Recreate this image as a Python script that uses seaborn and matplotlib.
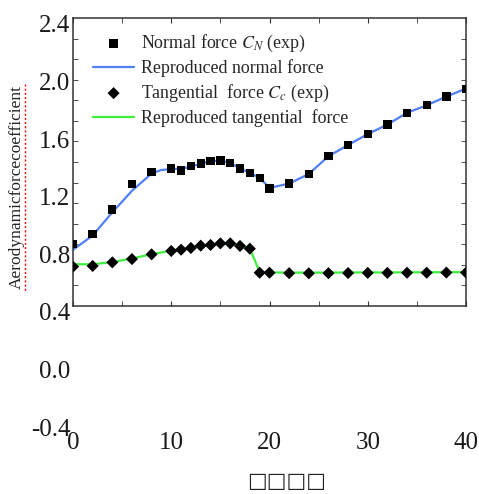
import numpy as np
import pandas as pd
import matplotlib
matplotlib.use("Agg")
import matplotlib.pyplot as plt
import matplotlib.transforms as mtransforms
from matplotlib.lines import Line2D
import seaborn as sns

# ---- data ----
x_exp = [0, 2, 4, 6, 8, 10, 11, 12, 13, 14, 15, 16, 17, 18, 19, 20,
         22, 24, 26, 28, 30, 32, 34, 36, 38, 40]
cn_exp = [0.83, 0.90, 1.07, 1.245, 1.33, 1.356, 1.34, 1.37, 1.39, 1.405,
          1.41, 1.395, 1.355, 1.325, 1.29, 1.215, 1.25, 1.317, 1.44, 1.518,
          1.594, 1.66, 1.742, 1.794, 1.854, 1.905]
cc_exp = [0.673, 0.678, 0.703, 0.726, 0.759, 0.782, 0.791, 0.803, 0.819,
          0.824, 0.835, 0.835, 0.817, 0.798, 0.631, 0.631, 0.628, 0.627,
          0.628, 0.629, 0.630, 0.630, 0.631, 0.631, 0.632, 0.632]

x_fit = [0, 2, 4, 6, 8, 9, 10, 11, 12, 13, 14, 15, 16, 17, 18, 19, 20,
         22, 24, 26, 28, 30, 32, 34, 36, 38, 40]
cn_fit = [0.79, 0.89, 1.05, 1.20, 1.32, 1.345, 1.35, 1.355, 1.365, 1.39,
          1.405, 1.41, 1.395, 1.355, 1.325, 1.29, 1.22, 1.25, 1.317, 1.44,
          1.518, 1.594, 1.66, 1.742, 1.794, 1.854, 1.91]
cc_fit = [0.69, 0.69, 0.705, 0.73, 0.76, 0.772, 0.785, 0.795, 0.805, 0.818,
          0.825, 0.83, 0.83, 0.82, 0.80, 0.635, 0.633, 0.632, 0.632, 0.632,
          0.633, 0.633, 0.633, 0.634, 0.634, 0.635, 0.635]

y_ticklabels = [-0.4, 0.0, 0.4, 0.8, 1.2, 1.6, 2.0, 2.4]
x_ticklabels = [0, 10, 20, 30, 40]

labels = ["Normal force $C_{N}$ (exp)", "Reproduced normal force",
          "Tangential  force $C_{c}$ (exp)", "Reproduced tangential  force"]

# ---- style ----
sns.set_style("ticks")
plt.rcParams["font.family"] = ["Liberation Serif", "DejaVu Sans"]
plt.rcParams["mathtext.fontset"] = "stix"

W, H = 479, 494
fig = plt.figure(figsize=(W / 100, H / 100), dpi=100)
ax = fig.add_axes([73 / W, 1 - 421.2 / H, 393 / W, 403.2 / H])

blue = "#4f7ff2"
green = "#3bef3b"

sns.scatterplot(x=x_exp, y=cn_exp, ax=ax, marker="s", s=36, color="black",
                edgecolor="none", label=labels[0], zorder=3)
sns.lineplot(x=x_fit, y=cn_fit, ax=ax, color=blue, lw=1.6, sort=False,
             estimator=None, label=labels[1], zorder=2)
sns.scatterplot(x=x_exp, y=cc_exp, ax=ax, marker="D", s=38, color="black",
                edgecolor="none", label=labels[2], zorder=3)
sns.lineplot(x=x_fit, y=cc_fit, ax=ax, color=green, lw=1.6, sort=False,
             estimator=None, label=labels[3], zorder=2)

ax.set_xlim(0, 40)
ax.set_ylim(-0.4, 2.4)

# spines: frame only spans 0.4 .. 2.4
for s in ["left", "right"]:
    ax.spines[s].set_bounds(0.4, 2.4)
ax.spines["bottom"].set_position(("data", 0.4))
for s in ax.spines.values():
    s.set_color("#333333")
    s.set_linewidth(1.1)
    s.set_visible(True)

# y ticks
ax.set_yticks(y_ticklabels)
ax.set_yticklabels([f"{v:.1f}" for v in y_ticklabels])
ax.set_yticks(np.linspace(0.4, 2.4, 15), minor=True)
ax.tick_params(axis="y", which="major", length=0, pad=2, labelsize=18,
               labelcolor="#1a1a1a")
ax.tick_params(axis="y", which="minor", direction="in", length=3.5,
               left=True, right=True, color="#333333")
off = mtransforms.ScaledTranslation(0, -6 / 100, fig.dpi_scale_trans)
for lab in ax.get_yticklabels():
    lab.set_transform(lab.get_transform() + off)

# x ticks
ax.set_xticks(x_ticklabels)
ax.set_xticklabels([str(v) for v in x_ticklabels])
ax.set_xticks([5, 15, 25, 35], minor=True)
ax.tick_params(axis="x", which="both", direction="in", length=3.5,
               top=True, bottom=True, color="#333333")
ax.tick_params(axis="x", which="major", pad=91, labelsize=18,
               labelcolor="#1a1a1a")

ax.set_xlabel("")
ax.set_ylabel("")

# legend
handles, labs = ax.get_legend_handles_labels()
hmap = dict(zip(labs, handles))
leg = ax.legend([hmap[l] for l in labels], labels, loc="upper left",
                bbox_to_anchor=(93 / W, 1 - 33 / H),
                bbox_transform=fig.transFigure, frameon=False,
                fontsize=12.9, handlelength=2.3, handletextpad=0.4,
                labelspacing=0.3, borderpad=0, borderaxespad=0)

# axis titles
fig.text(17 / W, 1 - 187 / H, "Aerodynamicforcecoefficient", rotation=90,
         ha="center", va="center", fontsize=12.5, color="#222222")
fig.add_artist(Line2D([25 / W, 25 / W], [1 - 84 / H, 1 - 291 / H],
                      color="red", lw=1.0, linestyle=(0, (1.5, 1.5))))
fig.text(287 / W, 1 - 481 / H, "□□□□", ha="center", va="center",
         fontsize=15, family="DejaVu Sans", color="#222222")

fig.savefig("out.png", dpi=100)
